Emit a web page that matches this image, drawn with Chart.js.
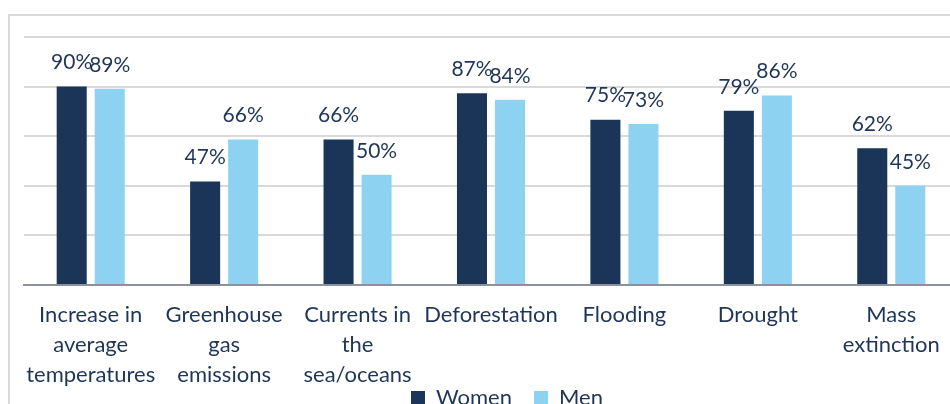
<!DOCTYPE html>
<html>
<head>
<meta charset="utf-8">
<script src="https://cdn.jsdelivr.net/npm/chart.js@4.4.1/dist/chart.umd.min.js"></script>
<style>
  html, body { margin: 0; padding: 0; background: #fff; overflow: hidden; }
  .frame { position: absolute; left: 8px; top: 14px; width: 1000px; height: 500px; border: 2px solid #d9d9d9; }
  #myChart { position: absolute; left: 0; top: 0; }
</style>
</head>
<body>
<div class="frame"></div>
<canvas id="myChart" width="980" height="459"></canvas>
<script>
const categories = [
    ['Increase in', 'average', 'temperatures'],
    ['Greenhouse', 'gas', 'emissions'],
    ['Currents in', 'the', 'sea/oceans'],
    'Deforestation',
    'Flooding',
    'Drought',
    ['Mass', 'extinction']
];
const women = [90, 47, 66, 87, 75, 79, 62];
const men = [89, 66, 50, 84, 73, 86, 45];

const navy = '#1b3559';
const lightBlue = '#8ed2f2';
const textColor = '#1f3657';
const fontFamily = 'Lato, "Open Sans", sans-serif';

// write the percentage above each bar
const barValues = {
    id: 'barValues',
    afterDatasetsDraw(chart) {
        const c = chart.ctx;
        c.save();
        c.font = '21px ' + fontFamily;
        c.fillStyle = textColor;
        c.textAlign = 'center';
        c.textBaseline = 'middle';
        chart.data.datasets.forEach((ds, i) => {
            chart.getDatasetMeta(i).data.forEach((bar, j) => {
                c.fillText(ds.data[j] + '%', bar.x, bar.y - 24);
            });
        });
        c.restore();
    }
};

// pull the legend up so it sits right under the category labels
const legendNudge = {
    id: 'legendNudge',
    afterLayout(chart) {
        const lg = chart.legend;
        if (!lg) return;
        lg.top -= 40;
        lg.bottom -= 40;
        lg.left += 16;
        lg.right += 16;
    }
};

const ctx = document.getElementById('myChart');

new Chart(ctx, {
    type: 'bar',
    data: {
        labels: categories,
        datasets: [{
            label: 'Women',
            data: women,
            backgroundColor: navy
        }, {
            label: 'Men',
            data: men,
            backgroundColor: lightBlue
        }]
    },
    options: {
        responsive: false,
        animation: false,
        devicePixelRatio: 1,
        categoryPercentage: 0.57,
        barPercentage: 0.79,
        layout: {
            padding: { left: 24, right: 22, top: 37, bottom: 0 }
        },
        scales: {
            x: {
                grid: { display: false, drawTicks: false },
                border: { color: '#8c919b', width: 2 },
                ticks: {
                    color: textColor,
                    padding: 15,
                    maxRotation: 0,
                    autoSkip: false,
                    font: { family: fontFamily, size: 22, lineHeight: 1.364 }
                }
            },
            y: {
                min: 0,
                max: 112.5,
                ticks: { display: false, stepSize: 22.5 },
                grid: { color: '#d9d9d9', lineWidth: 2, drawTicks: false },
                border: { display: false }
            }
        },
        plugins: {
            tooltip: { enabled: false },
            legend: {
                position: 'bottom',
                labels: {
                    color: textColor,
                    boxWidth: 14,
                    boxHeight: 14,
                    padding: 22,
                    font: { family: fontFamily, size: 22 }
                }
            }
        }
    },
    plugins: [barValues, legendNudge]
});
</script>
</body>
</html>
